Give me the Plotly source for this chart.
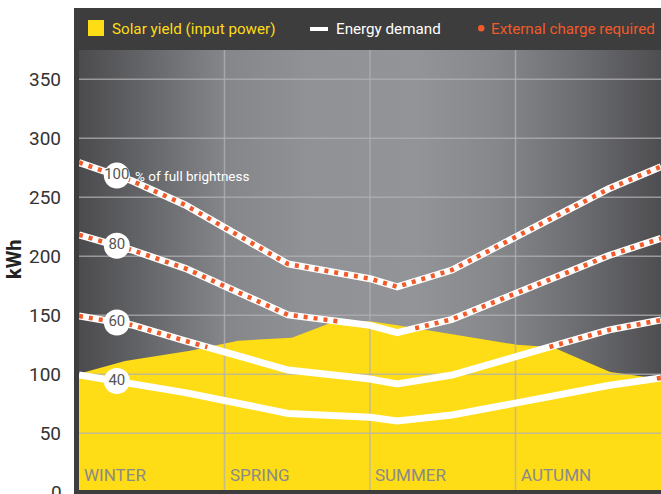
import base64
import numpy as np
import plotly.graph_objects as go

# ---------------- data ----------------
season_labels = ["WINTER", "SPRING", "SUMMER", "AUTUMN"]
season_start = [0, 3, 6, 9]

solar_x = [0, 0.95, 2.29, 3.28, 4.39, 5.28, 6.0, 6.56, 9.03, 9.77, 10.95, 12]
solar_y = [100.5, 111.3, 120, 128.5, 131, 145, 145, 141.5, 125, 123, 102, 96]

demand_x = [0, 1.09, 2.19, 4.31, 6.0, 6.56, 7.69, 10.91, 12]
demand_100 = [279.5, 264, 243.5, 193.5, 181, 174.2, 188.4, 257, 276]
demand_80 = [218.2, 205.3, 189.8, 150.4, 141.5, 135.3, 146.6, 200.5, 215.2]
demand_60 = [149.4, 141.8, 128.4, 103.6, 96, 91.8, 99.4, 137.5, 146]
demand_40 = [99.4, 92.4, 84.5, 66.9, 63.7, 60.4, 65.5, 90.5, 97]
brightness = ["100", "80", "60", "40"]

y_ticks = [50, 100, 150, 200, 250, 300, 350]
y_range = [2, 374.8]
x_range = [0, 12]

# ---------------- style ----------------
YELLOW = "#fedc16"
ORANGE = "#f15a29"
FRAME = "#3d3d3d"
NARROW = "Roboto, 'Liberation Sans', sans-serif"
GRID = "rgba(178,178,180,0.75)"

fig = go.Figure()

# solar yield area
fig.add_trace(go.Scatter(x=solar_x, y=solar_y, mode="lines", fill="tozeroy",
                         fillcolor=YELLOW, line=dict(width=0, color=YELLOW),
                         hoverinfo="skip", showlegend=False))

# gridlines (drawn above the yellow area)
for v in y_ticks:
    fig.add_trace(go.Scatter(x=x_range, y=[v, v], mode="lines",
                             line=dict(color=GRID, width=1.5),
                             hoverinfo="skip", showlegend=False))
for v in season_start[1:]:
    fig.add_trace(go.Scatter(x=[v, v], y=y_range, mode="lines",
                             line=dict(color=GRID, width=1.5),
                             hoverinfo="skip", showlegend=False))

series = [demand_100, demand_80, demand_60, demand_40]

# white demand lines
for ys in series:
    fig.add_trace(go.Scatter(x=demand_x, y=ys, mode="lines",
                             line=dict(color="white", width=7),
                             hoverinfo="skip", showlegend=False))


def above_part(xd, yd):
    grid = np.union1d(xd, solar_x)
    d = np.interp(grid, xd, yd)
    s = np.interp(grid, solar_x, solar_y)
    xs, ys = [], []
    for i in range(len(grid)):
        if i > 0:
            f0, f1 = d[i - 1] - s[i - 1], d[i] - s[i]
            if f0 * f1 < 0:
                t = f0 / (f0 - f1)
                xs.append(grid[i - 1] + t * (grid[i] - grid[i - 1]))
                ys.append(d[i - 1] + t * (d[i] - d[i - 1]))
        xs.append(grid[i])
        ys.append(d[i] if d[i] >= s[i] else None)
    return xs, ys


# orange dotted "external charge required" where demand exceeds yield
for ys in series:
    ox, oy = above_part(demand_x, ys)
    fig.add_trace(go.Scatter(x=ox, y=oy, mode="lines", connectgaps=False,
                             line=dict(color=ORANGE, width=4.5, dash="4px,6px"),
                             hoverinfo="skip", showlegend=False))

# brightness labels on lines
label_x = 0.78
lab_y = [float(np.interp(label_x, demand_x, ys)) for ys in series]
fig.add_trace(go.Scatter(x=[label_x] * 4, y=lab_y, mode="markers+text",
                         text=brightness, textposition="middle center",
                         textfont=dict(family=NARROW, size=15, color="#555555"),
                         marker=dict(size=26, color="white"),
                         hoverinfo="skip", showlegend=False))

annotations = []
annotations.append(dict(x=1.12, y=lab_y[0], xref="x", yref="y", text="% of full brightness",
                        showarrow=False, xanchor="left", yanchor="middle",
                        font=dict(family=NARROW, size=13.5, color="white")))

for lab, xs in zip(season_labels, season_start):
    annotations.append(dict(x=xs, y=0.034, xref="x", yref="paper", text=lab,
                            showarrow=False, xanchor="left", yanchor="middle", xshift=3,
                            font=dict(family=NARROW, size=17, color="#8a8a8a")))

W, H = 582.0, 440.0
def px(xp):
    return (xp - 79) / W
def py(yp):
    return (490 - yp) / H

# "0" tick label (cut off at the bottom)
annotations.append(dict(x=px(64), y=py(492.3), xref="paper", yref="paper", text="0",
                        showarrow=False, xanchor="right", yanchor="middle",
                        font=dict(family="Roboto, sans-serif", size=19, color="#333333")))

# axis title
annotations.append(dict(x=px(14), y=py(260), xref="paper", yref="paper", text="<b>kWh</b>",
                        textangle=-90, showarrow=False, xanchor="center", yanchor="middle",
                        font=dict(family="Roboto, sans-serif", size=20, color="#222222")))

# legend texts
LEG = 15.2
annotations.append(dict(x=px(110), y=py(28.5), xref="paper", yref="paper",
                        text="Solar yield (input power)", showarrow=False, xanchor="left",
                        yanchor="middle", font=dict(family=NARROW, size=LEG, color=YELLOW)))
annotations.append(dict(x=px(334), y=py(28.5), xref="paper", yref="paper",
                        text="Energy demand", showarrow=False, xanchor="left",
                        yanchor="middle", font=dict(family=NARROW, size=LEG, color="white")))
annotations.append(dict(x=px(489), y=py(28.5), xref="paper", yref="paper",
                        text="External charge required", showarrow=False, xanchor="left",
                        yanchor="middle", font=dict(family=NARROW, size=LEG, color=ORANGE)))

shapes = [
    # legend bar
    dict(type="rect", xref="paper", yref="paper", x0=px(74), x1=px(661), y0=py(50), y1=py(8),
         fillcolor=FRAME, line=dict(width=0), layer="above"),
    # left frame
    dict(type="rect", xref="paper", yref="paper", x0=px(74), x1=0, y0=py(494), y1=py(8),
         fillcolor=FRAME, line=dict(width=0), layer="above"),
    # bottom frame
    dict(type="rect", xref="paper", yref="paper", x0=px(74), x1=1, y0=py(494), y1=0,
         fillcolor=FRAME, line=dict(width=0), layer="above"),
    # legend swatches
    dict(type="rect", xref="paper", yref="paper", x0=px(88), x1=px(104), y0=py(36), y1=py(20),
         fillcolor=YELLOW, line=dict(width=0), layer="above"),
    dict(type="rect", xref="paper", yref="paper", x0=px(310), x1=px(328), y0=py(31), y1=py(27),
         fillcolor="white", line=dict(width=0), layer="above"),
    dict(type="circle", xref="paper", yref="paper", x0=px(478), x1=px(484.5), y0=py(31.5), y1=py(25),
         fillcolor=ORANGE, line=dict(width=0), layer="above"),
]

# background gradient image
svg = ("<svg xmlns='http://www.w3.org/2000/svg' width='582' height='440' preserveAspectRatio='none'>"
       "<defs><linearGradient id='g' x1='0' y1='0' x2='1' y2='0'>"
       "<stop offset='0' stop-color='#4b4b4e'/>"
       "<stop offset='0.12' stop-color='#66676a'/>"
       "<stop offset='0.25' stop-color='#85868a'/>"
       "<stop offset='0.40' stop-color='#919296'/>"
       "<stop offset='0.58' stop-color='#939498'/>"
       "<stop offset='0.72' stop-color='#86878b'/>"
       "<stop offset='0.86' stop-color='#6c6d71'/>"
       "<stop offset='1' stop-color='#4e4e51'/>"
       "</linearGradient></defs><rect width='582' height='440' fill='url(#g)'/></svg>")
src = "data:image/svg+xml;base64," + base64.b64encode(svg.encode()).decode()

fig.update_layout(
    width=661, height=494,
    margin=dict(l=79, r=0, t=50, b=4),
    paper_bgcolor="white", plot_bgcolor="#808084",
    showlegend=False,
    images=[dict(source=src, xref="paper", yref="paper", x=0, y=1, sizex=1, sizey=1,
                 xanchor="left", yanchor="top", sizing="stretch", layer="below")],
    xaxis=dict(range=x_range, showgrid=False, zeroline=False, showticklabels=False,
               showline=False, fixedrange=True),
    yaxis=dict(range=y_range, showgrid=False, zeroline=False, tickvals=y_ticks,
               ticks="", ticklabelstandoff=17, showline=False, fixedrange=True,
               tickfont=dict(family="Roboto, sans-serif", size=19, color="#333333")),
    annotations=annotations,
    shapes=shapes,
)

fig.write_html("out.html", config={"displayModeBar": False},
               post_script="document.body.style.margin='0';document.body.style.overflow='hidden';")
